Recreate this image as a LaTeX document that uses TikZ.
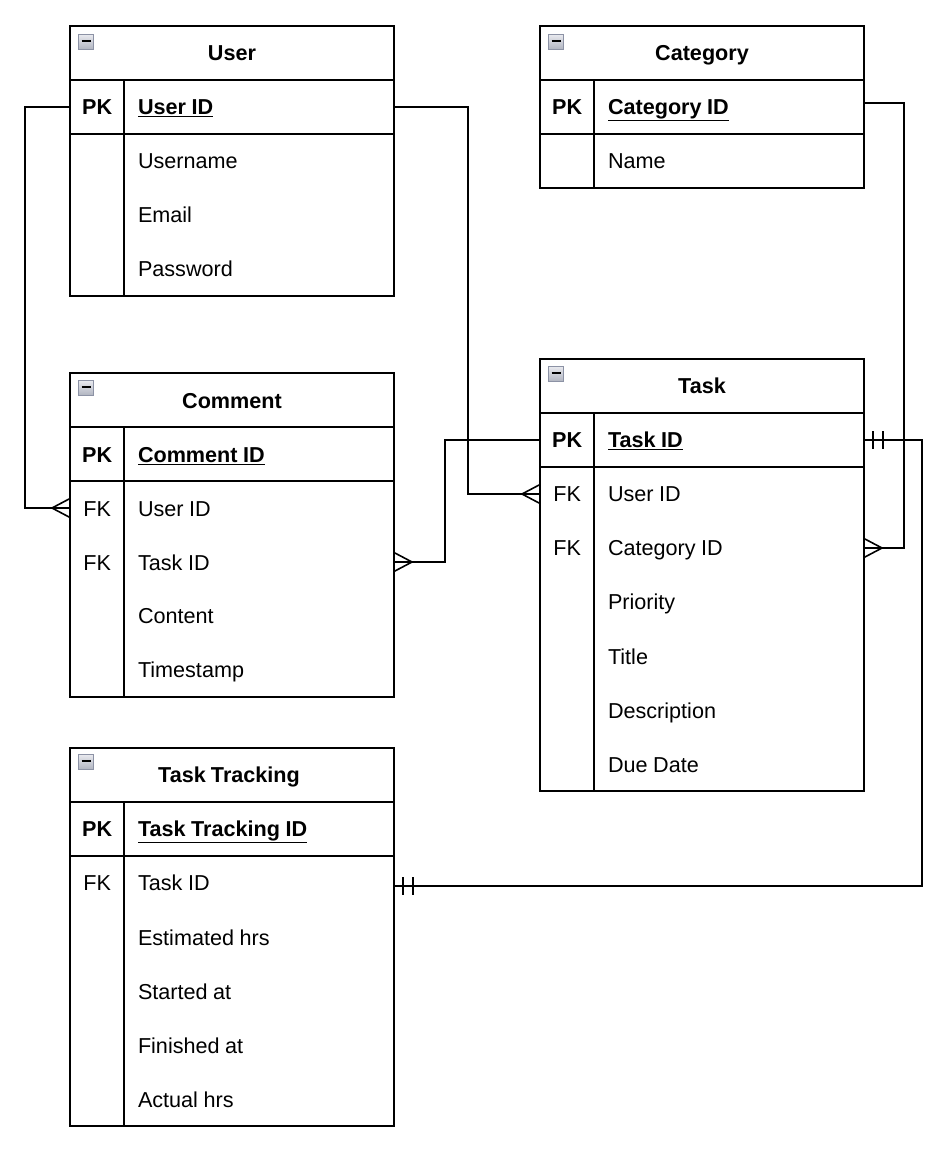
\documentclass[tikz,border=0pt]{standalone}
\usepackage{fontspec}
\setmainfont{Liberation Sans}
\definecolor{iconedge}{RGB}{140,146,165}
\definecolor{icontop}{RGB}{232,233,238}
\definecolor{iconbottom}{RGB}{176,180,192}
\newcommand{\cellfont}{\fontsize{21.6}{26}\selectfont\spaceskip=5.2pt plus 1pt minus 1pt\relax}
\tikzset{
  tableline/.style={line width=1.6pt, line cap=rect},
  cell/.style={rectangle, outer sep=0pt, inner ysep=0pt, minimum height=54pt, text height=15.4pt, text depth=0pt, font=\cellfont},
  lowtext/.style={text height=16.8pt},
  titlecell/.style={cell, tableline, draw, minimum width=324pt, font=\cellfont\bfseries},
  keycell/.style={cell, minimum width=54.25pt, inner xsep=0pt},
  namecell/.style={cell, text width=242.25pt, inner xsep=13.75pt, align=left, execute at begin node={\spaceskip=5.6pt plus 1pt minus 1pt\relax}},
  pkcell/.style={tableline, draw, font=\cellfont\bfseries},
  bodycell/.style={tableline, draw, rectangle, outer sep=0pt, minimum width=324pt},
  relation/.style={line width=1.6pt},
  crowfoot/.pic={\draw[relation] (0,-9.5) -- (18,0) -- (0,9.5);},
  onebars/.pic={\draw[relation, line width=2pt] (9,-9) -- (9,9) (18.5,-9) -- (18.5,9);},
  minusbox/.pic={
    \draw[draw=iconedge, top color=icontop, bottom color=iconbottom, line width=1.3pt] (0.6,0.6) rectangle (15.4,15.4);
    \draw[line width=2.4pt] (3.5,7) -- (12.5,7);}
}
\begin{document}
\begin{tikzpicture}[x=1pt,y=-1pt]
\useasboundingbox (0,0) rectangle (952,1156);

% User
\node [bodycell, minimum height=162pt] (userbody) at (232,215) {};
\node [titlecell] (user) at (232,53) {User};
\node [keycell, pkcell] (userpk) at (97.125,107) {PK};
\node [namecell, pkcell] (userid) at (259.125,107) {\underline{User ID}};
\node [namecell] (username) at (259.125,161) {Username};
\node [namecell] (useremail) at (259.125,215) {Email};
\node [namecell] (userpassword) at (259.125,269) {Password};
\draw [tableline] (userpk.south east) -- (userpk.south east |- userbody.south);
\pic at (78,34) {minusbox};

% Category
\node [bodycell, minimum height=54pt] (categorybody) at (702,161) {};
\node [titlecell] (category) at (702,53) {Category};
\node [keycell, pkcell] (categorypk) at (567.125,107) {PK};
\node [namecell, pkcell] (categoryid) at (729.125,107) {\underline{Category ID}};
\node [namecell] (categoryname) at (729.125,161) {Name};
\draw [tableline] (categorypk.south east) -- (categorypk.south east |- categorybody.south);
\pic at (548,34) {minusbox};

% Comment
\node [bodycell, minimum height=216pt] (commentbody) at (232,589) {};
\node [titlecell, lowtext] (comment) at (232,400) {Comment};
\node [keycell, pkcell, lowtext] (commentpk) at (97.125,454) {PK};
\node [namecell, pkcell, lowtext] (commentid) at (259.125,454) {\underline{Comment ID}};
\node [keycell, lowtext] (commentfkuser) at (97.125,508) {FK};
\node [namecell, lowtext] (commentuser) at (259.125,508) {User ID};
\node [keycell, lowtext] (commentfktask) at (97.125,562) {FK};
\node [namecell, lowtext] (commenttask) at (259.125,562) {Task ID};
\node [namecell] (commentcontent) at (259.125,616) {Content};
\node [namecell] (commenttime) at (259.125,670) {Timestamp};
\draw [tableline] (commentpk.south east) -- (commentpk.south east |- commentbody.south);
\pic at (78,380) {minusbox};

% Task
\node [bodycell, minimum height=324pt] (taskbody) at (702,629) {};
\node [titlecell] (task) at (702,386) {Task};
\node [keycell, pkcell] (taskpk) at (567.125,440) {PK};
\node [namecell, pkcell] (taskid) at (729.125,440) {\underline{Task ID}};
\node [keycell] (taskfkuser) at (567.125,494) {FK};
\node [namecell] (taskuser) at (729.125,494) {User ID};
\node [keycell] (taskfkcategory) at (567.125,548) {FK};
\node [namecell] (taskcategory) at (729.125,548) {Category ID};
\node [namecell] (taskpriority) at (729.125,602) {Priority};
\node [namecell] (tasktitle) at (729.125,657) {Title};
\node [namecell] (taskdescription) at (729.125,711) {Description};
\node [namecell] (taskdue) at (729.125,765) {Due Date};
\draw [tableline] (taskpk.south east) -- (taskpk.south east |- taskbody.south);
\pic at (548,366) {minusbox};

% Task Tracking
\node [bodycell, minimum height=270pt] (trackingbody) at (232,991) {};
\node [titlecell] (tracking) at (232,775) {\hspace*{-6pt}Task Tracking};
\node [keycell, pkcell] (trackingpk) at (97.125,829) {PK};
\node [namecell, pkcell] (trackingid) at (259.125,829) {\underline{Task Tracking ID}};
\node [keycell] (trackingfktask) at (97.125,883) {FK};
\node [namecell] (trackingtask) at (259.125,883) {Task ID};
\node [namecell] (trackingestimated) at (259.125,938) {Estimated hrs};
\node [namecell] (trackingstarted) at (259.125,992) {Started at};
\node [namecell] (trackingfinished) at (259.125,1046) {Finished at};
\node [namecell] (trackingactual) at (259.125,1100) {Actual hrs};
\draw [tableline] (trackingpk.south east) -- (trackingpk.south east |- trackingbody.south);
\pic at (78,754) {minusbox};

% Relations
\coordinate (categoryout) at (864,103);
\coordinate (taskin) at (864,548);
\coordinate (trackingin) at (394,886);
\coordinate (commentin) at (394,562);
\draw [relation] (userpk.west) -- (25,107) -- (25,508) -- (commentfkuser.west);
\draw [relation] (userid.east) -- (468,107) -- (468,494) -- (taskfkuser.west);
\draw [relation] (taskpk.west) -- (445,440) -- (445,562) -- (commentin);
\draw [relation] (categoryout) -- (904,103) -- (904,548) -- (taskin);
\draw [relation] (taskid.east) -- (922,440) -- (922,886) -- (trackingin);
\pic at (commentfkuser.west) [xscale=-1] {crowfoot};
\pic at (taskfkuser.west) [xscale=-1] {crowfoot};
\pic at (commentin) {crowfoot};
\pic at (taskin) {crowfoot};
\pic at (taskid.east) {onebars};
\pic at (trackingin) {onebars};

\end{tikzpicture}
\end{document}
